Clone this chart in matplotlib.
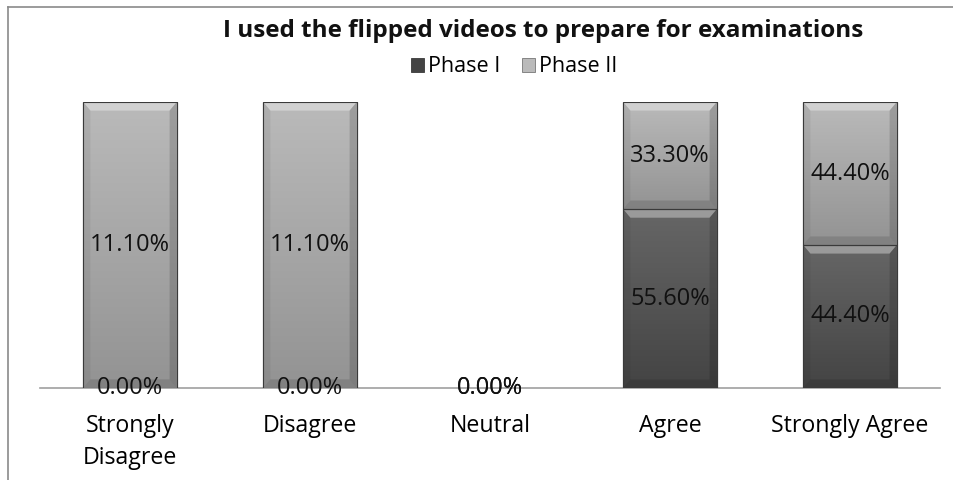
import numpy as np
import matplotlib
matplotlib.use("Agg")
import matplotlib.pyplot as plt
from matplotlib.patches import Rectangle, Polygon
from matplotlib.lines import Line2D

# data (percent of respondents)
categories = ["Strongly\nDisagree", "Disagree", "Neutral", "Agree", "Strongly Agree"]
phase1 = [0.0, 0.0, 0.0, 55.6, 44.4]
phase2 = [11.1, 11.1, 0.0, 33.3, 44.4]
series_names = ["Phase I", "Phase II"]
title = "I used the flipped videos to prepare for examinations"

plt.rcParams['font.family'] = ['Open Sans', 'DejaVu Sans']

# 100% stacked shares
p1 = np.array(phase1)
p2 = np.array(phase2)
tot = p1 + p2
share1 = np.divide(p1, tot, out=np.zeros_like(p1), where=tot > 0)
share2 = np.divide(p2, tot, out=np.zeros_like(p2), where=tot > 0)

fig = plt.figure(figsize=(9.54, 4.8), dpi=100)
ax = fig.add_axes([40 / 954, 92 / 480, 900 / 954, 286 / 480])
ax.set_xlim(-0.5, len(categories) - 0.5)
ax.set_ylim(0, 1)

dark_cols = ("#666666", "#444444")
light_cols = ("#bababa", "#939393")
width = 0.52


def bevel_bar(x, bottom, height, cols):
    if height <= 0:
        return
    rect = Rectangle((x - width / 2, bottom), width, height, facecolor=cols[1],
                     edgecolor="#3a3a3a", linewidth=0.8, zorder=2)
    ax.add_patch(rect)
    grad = np.linspace(0, 1, 100).reshape(-1, 1)
    cmap = matplotlib.colors.LinearSegmentedColormap.from_list("g", [cols[1], cols[0]])
    im = ax.imshow(grad, cmap=cmap, aspect="auto", origin="lower",
                   extent=(x - width / 2, x + width / 2, bottom, bottom + height), zorder=2)
    im.set_clip_path(rect)
    # bevel edges
    dx = 0.04
    dy = 0.03
    top = bottom + height
    l, r = x - width / 2, x + width / 2
    ax.add_patch(Polygon([(l, top), (r, top), (r - dx, top - dy), (l + dx, top - dy)],
                         closed=True, facecolor="white", alpha=0.35, lw=0, zorder=3))
    ax.add_patch(Polygon([(l, bottom), (r, bottom), (r - dx, bottom + dy), (l + dx, bottom + dy)],
                         closed=True, facecolor="black", alpha=0.12, lw=0, zorder=3))
    ax.add_patch(Polygon([(l, bottom), (l + dx, bottom + dy), (l + dx, top - dy), (l, top)],
                         closed=True, facecolor="black", alpha=0.06, lw=0, zorder=3))
    ax.add_patch(Polygon([(r, bottom), (r - dx, bottom + dy), (r - dx, top - dy), (r, top)],
                         closed=True, facecolor="black", alpha=0.15, lw=0, zorder=3))
    ax.add_patch(Rectangle((l, bottom), width, height, facecolor="none",
                           edgecolor="#3a3a3a", linewidth=0.8, zorder=4))


x = np.arange(len(categories))
for i in x:
    bevel_bar(i, 0, share1[i], dark_cols)
    bevel_bar(i, share1[i], share2[i], light_cols)
    ax.text(i, share1[i] / 2, f"{phase1[i]:.2f}%", ha="center", va="center",
            fontsize=17, color="#111111", zorder=5)
    ax.text(i, share1[i] + share2[i] / 2, f"{phase2[i]:.2f}%", ha="center", va="center",
            fontsize=17, color="#111111", zorder=5)

ax.set_xticks(x)
ax.set_xticklabels(categories, fontsize=16.7, linespacing=1.45)
ax.tick_params(axis="x", length=0, pad=19)
ax.set_yticks([])
for s in ["top", "right", "left"]:
    ax.spines[s].set_visible(False)
ax.spines["bottom"].set_color("#a0a0a0")
ax.spines["bottom"].set_linewidth(1.2)
ax.spines["bottom"].set_zorder(1)

fig.text(0.569, 1 - 31 / 480, title, ha="center", va="center", fontsize=17.5,
         fontweight="bold", color="#111111")

handles = [Rectangle((0, 0), 1, 1, facecolor=dark_cols[1], edgecolor="#3a3a3a", lw=0.6),
           Rectangle((0, 0), 1, 1, facecolor=light_cols[0], edgecolor="#777777", lw=0.6)]
fig.legend(handles, series_names, loc="center", bbox_to_anchor=(0.539, 1 - 67 / 480),
           ncol=2, frameon=False, fontsize=15.5, handlelength=0.6, handleheight=0.6,
           handletextpad=0.2, columnspacing=1.0)

# chart frame (cropped box)
fig.add_artist(Line2D([8 / 954, 8 / 954], [0, 1 - 7 / 480], transform=fig.transFigure,
                      color="#8a8a8a", lw=1.2))
fig.add_artist(Line2D([8 / 954, 1], [1 - 7 / 480, 1 - 7 / 480], transform=fig.transFigure,
                      color="#8a8a8a", lw=1.2))

fig.savefig("out.png", dpi=100)
